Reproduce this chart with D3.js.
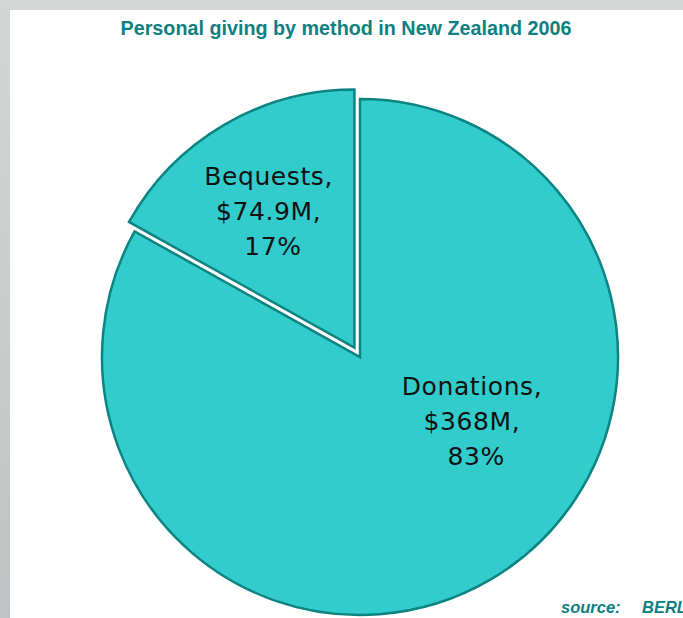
<!DOCTYPE html>
<html>
<head>
<meta charset="utf-8">
<script src="https://cdn.jsdelivr.net/npm/d3@7"></script>
<style>
  body { margin: 0; padding: 0; background: #fff; }
  svg { display: block; }
</style>
</head>
<body>
<svg id="chart" width="683" height="618"></svg>
<script>
// data
var methods = ["Donations", "Bequests"];
var amounts = [368, 74.9];
var amountLabels = ["$368M", "$74.9M"];
var shares = ["83%", "17%"];

var titleText = "Personal giving by method in New Zealand 2006";
var sourceLead = "source:";
var sourceName = "BERL";

// layout
var W = 683, H = 618;
var cx = 360, cy = 357;
var radius = 258;
var explode = [0, 11];        // px pulled out per slice
var labelAngleShift = [-0.52, -0.03];  // radians, nudge label off the centroid
var labelRadius = [0.50, 0.625];
var lineH = 35;

var teal = "#33CCCC";
var edge = "#0B8482";
var titleColor = "#0E8080";

var svg = d3.select("#chart");

// grey frame round the white slide panel
var defs = svg.append("defs");
var grad = defs.append("linearGradient")
    .attr("id", "frame")
    .attr("x1", 0).attr("y1", 0).attr("x2", 0).attr("y2", 1);
grad.append("stop").attr("offset", "0%").attr("stop-color", "#d2d6d5");
grad.append("stop").attr("offset", "100%").attr("stop-color", "#bfc3c3");

svg.append("rect").attr("x", 0).attr("y", 0).attr("width", W).attr("height", H)
    .attr("fill", "url(#frame)");
svg.append("rect").attr("x", 10).attr("y", 10).attr("width", W - 10).attr("height", H - 10)
    .attr("fill", "#ffffff");

// title
svg.append("text")
    .attr("x", 346)
    .attr("y", 34.5)
    .attr("text-anchor", "middle")
    .attr("font-family", "'Liberation Sans', Arial, sans-serif")
    .attr("font-weight", "bold")
    .attr("font-size", 20.5)
    .attr("textLength", 451)
    .attr("lengthAdjust", "spacingAndGlyphs")
    .attr("fill", titleColor)
    .text(titleText);

var rows = methods.map(function(m, i) {
    return { method: m, value: amounts[i], amount: amountLabels[i], share: shares[i], idx: i };
});

var pie = d3.pie()
    .sort(null)
    .value(function(d) { return d.value; });

var arc = d3.arc()
    .innerRadius(0)
    .outerRadius(radius);

var arcs = pie(rows);

var g = svg.append("g").attr("transform", "translate(" + cx + "," + cy + ")");

var slices = g.selectAll("g.slice")
    .data(arcs)
    .enter().append("g")
    .attr("class", "slice")
    .attr("transform", function(d) {
        var mid = (d.startAngle + d.endAngle) / 2;
        var off = explode[d.data.idx];
        return "translate(" + (Math.sin(mid) * off) + "," + (-Math.cos(mid) * off) + ")";
    });

slices.append("path")
    .attr("d", arc)
    .attr("fill", teal)
    .attr("stroke", edge)
    .attr("stroke-width", 2.5)
    .attr("stroke-linejoin", "miter");

// slice labels: name, amount, share on three centred lines
slices.append("text")
    .attr("font-family", "'DejaVu Sans', Verdana, sans-serif")
    .attr("font-size", 25)
    .attr("letter-spacing", 0.6)
    .attr("fill", "#111")
    .attr("text-anchor", "middle")
    .attr("xml:space", "preserve")
    .style("white-space", "pre")
    .each(function(d) {
        var i = d.data.idx;
        var mid = (d.startAngle + d.endAngle) / 2 + labelAngleShift[i];
        var r = radius * labelRadius[i];
        var x = Math.sin(mid) * r, y = -Math.cos(mid) * r;
        var lines = [d.data.method + ",", d.data.amount + ",", " " + d.data.share];
        d3.select(this).selectAll("tspan")
            .data(lines)
            .enter().append("tspan")
            .attr("x", x)
            .attr("y", function(t, k) { return y + (k - 1) * lineH + 9; })
            .text(function(t) { return t; });
    });

// source note, clipped by the right edge as in the slide
var src = svg.append("text")
    .attr("y", 613)
    .attr("font-family", "'Liberation Sans', Arial, sans-serif")
    .attr("font-weight", "bold")
    .attr("font-style", "italic")
    .attr("font-size", 16.5)
    .attr("fill", titleColor);
src.append("tspan").attr("x", 561).text(sourceLead);
src.append("tspan").attr("x", 642).text(sourceName);
</script>
</body>
</html>
